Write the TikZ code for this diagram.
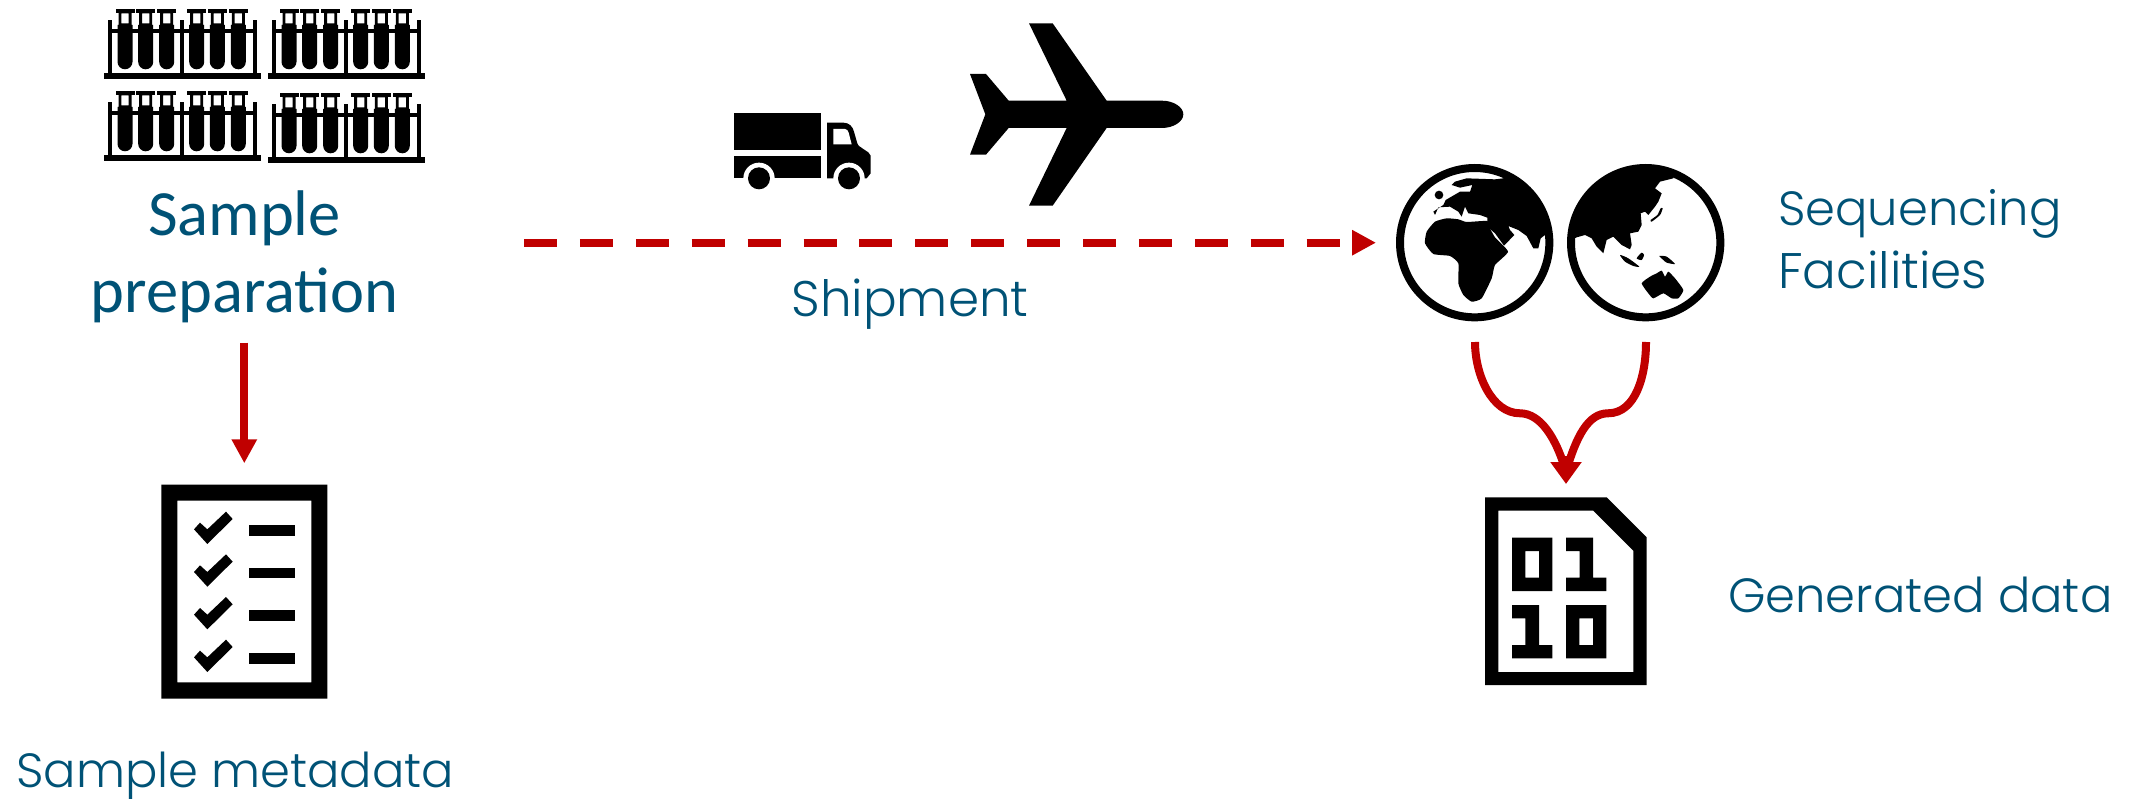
\documentclass[tikz,border=0pt]{standalone}
\usepackage{fontspec}
\usetikzlibrary{arrows.meta}
\newfontfamily\calib{Carlito}
\newfontfamily\lightf{Poppins Light}
\definecolor{tealtxt}{HTML}{005276}
\definecolor{redc}{HTML}{C00000}
\tikzset{
  x=1pt,y=-1pt,
  zoomed/.style={scale=0.33333},
  redline/.style={draw=redc,line width=8pt},
  heavy/.style={font=\calib\fontsize{64.5}{77}\selectfont,text=tealtxt,inner sep=0pt},
  thin/.style={font=\lightf\fontsize{48}{63}\selectfont,text=tealtxt,inner sep=0pt},
  thinwide/.style={font=\lightf\fontsize{50}{63}\selectfont,text=tealtxt,inner sep=0pt},
}
\newcommand{\tubeat}[1]{%
  \fill (#1-9.5,9.3) rectangle (#1+9.5,12.7);
  \fill[even odd rule] (#1-6.5,12) -- (#1+6.5,12) -- (#1+6.5,25) -- (#1+7.5,25) -- (#1+7.5,61.8)
    arc[start angle=0,end angle=180,radius=7.5] -- (#1-7.5,25) -- (#1-6.5,25) -- cycle
    (#1-3.7,13.5) -- (#1+3.7,13.5) -- (#1+3.7,23.5) -- (#1-3.7,23.5) -- cycle;
}
\newcommand{\rackset}[2]{%
  \begin{scope}[shift={(#1,#2)}]
    \fill (104,73.3) rectangle (261,79.3);
    \fill (108.3,20) rectangle (111.7,74);
    \fill (180,20) rectangle (184,74);
    \fill (253.3,20) rectangle (256.7,74);
    \fill (108,29.3) rectangle (257,32.7);
    \foreach \c in {125,145.7,166.7,196.7,217.3,238.3}{\tubeat{\c}}
  \end{scope}
}
\begin{document}
\begin{tikzpicture}
\useasboundingbox (0,0) rectangle (2141,799);
% racks
\rackset{0}{0}
\rackset{164}{0}
\rackset{0}{82}
\rackset{164}{84}
% truck
\begin{scope}[shift={(720,10)},zoomed]
  \fill (42,310) rectangle (303,421);
  \fill (42,439) rectangle (303,505);
  \fill (321,505) -- (321,338) -- (370,338) .. controls (388,338) and (398,350) .. (402,365)
     -- (412,400) .. controls (414,408) and (420,410) .. (445,427) -- (452,437) -- (452,490) -- (440,505) -- cycle;
  \fill[white] (340,357) -- (375,357) .. controls (381,357) and (384,362) .. (386,368) -- (395,403) -- (340,403) -- cycle;
  \fill[white] (117,505) circle[radius=47];
  \fill[white] (387,505) circle[radius=47];
  \fill (117,505) circle[radius=33];
  \fill (387,505) circle[radius=33];
  % plane
  \fill (750,192) -- (798,192) -- (866,272) -- (1040,272) -- (927,40) -- (998,40) -- (1160,272) -- (1325,272)
     .. controls (1362,272) and (1390,292) .. (1390,313) .. controls (1390,334) and (1362,354) .. (1325,354)
     -- (1160,354) -- (998,587) -- (927,587) -- (1040,354) -- (866,354) -- (798,434) -- (750,434) -- (796,313) -- cycle;
\end{scope}
% globes
\begin{scope}[shift={(1380,150)},zoomed]
  \begin{scope}
    \clip (284,278) circle[radius=225];
    \fill plot[smooth cycle,tension=0.3] coordinates {(135,280) (140,245) (165,215) (200,205) (235,208) (260,216) (322,213) (330,235) (345,262) (384,305) (345,345) (335,385) (305,445) (275,455) (250,435) (235,400) (235,340) (210,318) (160,312)};
    \fill (165,195) -- (160,185) -- (190,165) -- (197,150) -- (240,125) -- (270,125) -- (277,105) -- (240,113) -- (215,105) -- (225,95) -- (260,85) -- (345,88) -- (370,85) -- (400,40) -- (530,110) -- (530,250) -- (495,255) -- (482,265) -- (475,295) -- (460,295) -- (440,258) -- (415,240) -- (385,228) -- (390,240) -- (403,255) -- (372,287) -- (345,250) -- (322,230) -- (322,203) -- (300,195) -- (265,190) -- (255,170) -- (245,200) -- (235,185) -- (210,170) -- (175,172) -- cycle;
    \fill (177,135) circle[radius=13];
  \end{scope}
  \draw[line width=8pt] (284,278) circle[radius=224];
  \begin{scope}
    \clip (797,278) circle[radius=225];
    \fill (880,85) -- (840,95) -- (825,115) -- (845,130) -- (835,155) -- (825,170) -- (805,195) -- (795,185) -- (782,190) -- (785,225) -- (775,245) -- (750,250) -- (755,285) -- (750,298) -- (725,285) -- (700,260) -- (680,270) -- (670,310) -- (650,290) -- (635,265) -- (615,255) -- (590,262) -- (550,280) -- (550,30) -- (880,30) -- cycle;
  \end{scope}
  \fill plot[smooth cycle,tension=0.4] coordinates {(848,175) (840,195) (815,215) (812,210) (832,195) (842,175)};
  \fill plot[smooth cycle,tension=0.4] coordinates {(720,315) (745,325) (778,350) (760,348) (735,335)};
  \fill plot[smooth cycle,tension=0.4] coordinates {(770,325) (785,308) (792,315) (785,330)};
  \fill plot[smooth cycle,tension=0.4] coordinates {(838,318) (860,320) (885,342) (860,338) (850,330)};
  \fill plot[smooth cycle,tension=0.3] coordinates {(785,400) (810,380) (830,370) (845,362) (855,380) (865,365) (885,385) (910,420) (895,445) (875,445) (850,430) (820,445) (805,430)};
  \draw[line width=8pt] (797,278) circle[radius=224];
\end{scope}
% metadata icon
\begin{scope}[shift={(150,470)},zoomed]
  \fill[even odd rule] (34,44) rectangle (532,686) (82,92) rectangle (484,637);
  \foreach \d in {0,128,256,384}{
    \fill (132,178+\d) -- (150,158+\d) -- (172,178+\d) -- (228,125+\d) -- (248,147+\d) -- (172,222+\d) -- cycle;
    \fill (298,165+\d) rectangle (436,197+\d);
  }
\end{scope}
% data icon
\begin{scope}[shift={(1460,480)},zoomed]
  \fill[even odd rule] (75,52) -- (440,52) -- (560,172) -- (560,615) -- (75,615) -- cycle
    (115,92) -- (400,92) -- (520,212) -- (520,576) -- (115,576) -- cycle;
  \fill[even odd rule] (156,173) rectangle (277,333) (196,213) rectangle (237,293);
  \fill (318,173) -- (399,173) -- (399,293) -- (439,293) -- (439,333) -- (318,333) -- (318,293) -- (359,293) -- (359,213) -- (318,213) -- cycle;
  \fill (156,375) -- (237,375) -- (237,495) -- (277,495) -- (277,535) -- (156,535) -- (156,495) -- (196,495) -- (196,415) -- (156,415) -- cycle;
  \fill[even odd rule] (318,375) rectangle (439,535) (358,415) rectangle (399,495);
\end{scope}
% labels
\node[heavy,anchor=base] (samp) at (244.5,236) {Sample};
\node[heavy,anchor=base] (prep) at (244.5,313) {preparation};
\node[thin,anchor=base west] (seq) at (1778,226) {Sequencing};
\node[thinwide,anchor=base west] (fac) at (1778,289) {Facilities};
\node[thinwide,anchor=base] (ship) at (910,317) {Shipment};
\node[thin,anchor=base west] (gen) at (1728,612) {Generated data};
\node[thin,anchor=base west] (meta) at (16,787) {Sample metadata};
% connectors
\coordinate (prepOut) at (244.3,342.7);
\coordinate (metaIn) at (244.3,463.3);
\coordinate (shipA) at (524,242.7);
\coordinate (shipB) at (1376,242.7);
\coordinate (gL) at (1475,342);
\coordinate (gR) at (1646,342);
\coordinate (kL) at (1520,413.3);
\coordinate (kR) at (1608,413.3);
\coordinate (merge) at (1566,472);
\coordinate (stem) at (1566,456);
\coordinate (dataIn) at (1566,484);
\draw[redline,-{Triangle[length=24pt,width=24pt]}] (prepOut) -- (metaIn);
\draw[redline,dash pattern=on 33pt off 22.9pt,-{Triangle[length=24pt,width=24pt]}] (shipA) -- (shipB);
\draw[redline] (gL) .. controls (1475,375) and (1492,413.3) .. (kL) .. controls (1540,413.3) and (1556,437) .. (merge);
\draw[redline] (gR) .. controls (1646,375) and (1636,413.3) .. (kR) .. controls (1588,413.3) and (1576,437) .. (merge);
\draw[redline,-{Triangle[length=22pt,width=30pt]}] (stem) -- (dataIn);
\end{tikzpicture}
\end{document}
